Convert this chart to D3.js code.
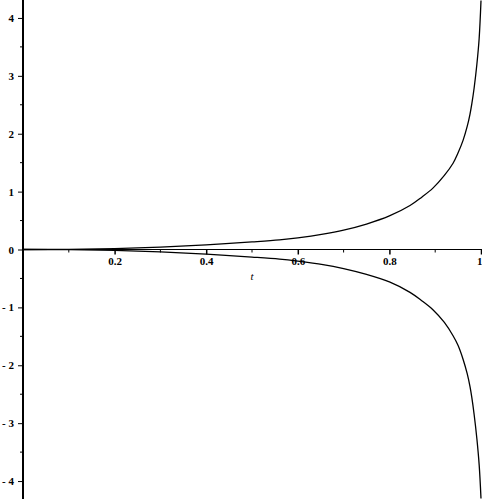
<!DOCTYPE html>
<html>
<head>
<meta charset="utf-8">
<script src="https://cdn.jsdelivr.net/npm/d3@7"></script>
<style>
  body { margin: 0; background: #fff; }
  svg { display: block; }
  .tick text { font-family: "Liberation Serif", serif; font-size: 11px; font-weight: bold; }
</style>
</head>
<body>
<div id="chart"></div>
<script>
// values
const tValues = [0, 0.1, 0.2, 0.3, 0.4, 0.5, 0.56, 0.6, 0.655, 0.7, 0.75, 0.8, 0.845, 0.87, 0.895, 0.92, 0.939, 0.95, 0.961, 0.97, 0.976, 0.98, 0.985, 0.991, 0.996, 1.0];
const upperValues = [0, 0.003, 0.015, 0.04, 0.08, 0.13, 0.165, 0.2, 0.265, 0.335, 0.44, 0.58, 0.76, 0.9, 1.06, 1.28, 1.49, 1.67, 1.89, 2.13, 2.34, 2.52, 2.79, 3.2, 3.65, 4.3];
const lowerValues = [0, -0.003, -0.015, -0.04, -0.08, -0.13, -0.165, -0.2, -0.26, -0.33, -0.43, -0.56, -0.74, -0.88, -1.04, -1.26, -1.49, -1.66, -1.9, -2.15, -2.37, -2.56, -2.85, -3.27, -3.72, -4.3];
const xTicks = [0.2, 0.4, 0.6, 0.8, 1];
const xMinorTicks = [0.1, 0.3, 0.5, 0.7, 0.9];
const yTicks = [-4, -3, -2, -1, 0, 1, 2, 3, 4];
const yMinorTicks = [-3.5, -2.5, -1.5, -0.5, 0.5, 1.5, 2.5, 3.5];
const xLabel = 't';

const width = 482, height = 499;

const svg = d3.select('#chart')
    .append('svg')
    .attr('width', width)
    .attr('height', height);

const x = d3.scaleLinear().domain([0, 1]).range([23, 481]);
const y = d3.scaleLinear().domain([-4.31, 4.31]).range([height, 0]);

// x axis
const xAxis = svg.append('g')
    .attr('transform', `translate(0, ${y(0)})`)
    .call(d3.axisBottom(x).tickValues(xTicks).tickSize(5).tickPadding(3)
        .tickFormat(d => d === 1 ? '1' : d3.format('.1f')(d)));
xAxis.select('.domain').remove();
xAxis.append('line')
    .attr('x1', x(0)).attr('x2', width)
    .attr('stroke', 'black').attr('stroke-width', 1.2);
xAxis.selectAll('.tick line').attr('stroke-width', 1.5);
xAxis.selectAll('.tick text').attr('fill', 'black');
// last label sits on the right edge
xAxis.selectAll('.tick text')
    .filter(d => d === 1)
    .attr('text-anchor', 'end')
    .attr('dx', 1);
xAxis.selectAll('.minor')
    .data(xMinorTicks)
    .enter()
    .append('line')
    .attr('x1', d => x(d)).attr('x2', d => x(d))
    .attr('y1', 0).attr('y2', 3)
    .attr('stroke', 'black');

svg.append('text')
    .attr('x', x(0.5))
    .attr('y', y(0) + 30)
    .attr('text-anchor', 'middle')
    .style('font-family', '"Liberation Serif", serif')
    .style('font-style', 'italic')
    .style('font-size', '11px')
    .text(xLabel);

// y axis
const yAxis = svg.append('g')
    .attr('transform', `translate(${x(0)}, 0)`)
    .call(d3.axisLeft(y).tickValues(yTicks).tickSize(5).tickPadding(4)
        .tickFormat(d => d < 0 ? '- ' + (-d) : String(d)));
yAxis.select('.domain').remove();
yAxis.append('line')
    .attr('y1', 0).attr('y2', height)
    .attr('stroke', 'black').attr('stroke-width', 2);
yAxis.selectAll('.tick text').attr('fill', 'black');
yAxis.selectAll('.minor')
    .data(yMinorTicks)
    .enter()
    .append('line')
    .attr('x1', -3).attr('x2', 0)
    .attr('y1', d => y(d)).attr('y2', d => y(d))
    .attr('stroke', 'black');

// curves
const line = d3.line()
    .x(d => x(d[0]))
    .y(d => y(d[1]))
    .curve(d3.curveCatmullRom.alpha(0.5));

[upperValues, lowerValues].forEach(vals => {
    svg.append('path')
        .datum(d3.zip(tValues, vals))
        .attr('fill', 'none')
        .attr('stroke', 'black')
        .attr('stroke-width', 1.3)
        .attr('d', line);
});
</script>
</body>
</html>
